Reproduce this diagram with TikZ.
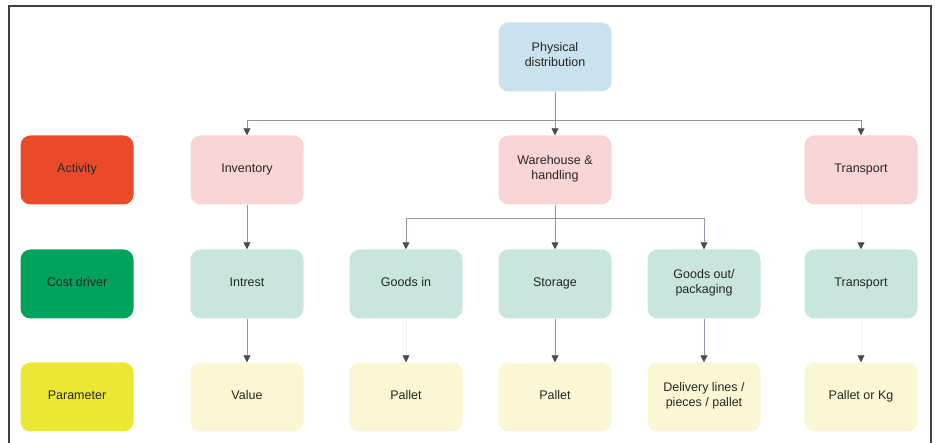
\documentclass[tikz,border=0pt]{standalone}
\usepackage{fontspec}
\setmainfont{Liberation Sans}
\usetikzlibrary{arrows.meta}

\definecolor{pdblue}{RGB}{202,226,238}
\definecolor{actred}{RGB}{234,74,42}
\definecolor{costgreen}{RGB}{0,162,92}
\definecolor{paryellow}{RGB}{234,232,50}
\definecolor{actpink}{RGB}{249,213,213}
\definecolor{costteal}{RGB}{200,229,222}
\definecolor{parcream}{RGB}{250,248,212}
\definecolor{linegray}{RGB}{140,152,168}

\begin{document}
\begin{tikzpicture}[x=1pt,y=-1pt,>={Triangle[width=7pt,length=7pt,color=black!70]},
    box/.style={rectangle,rounded corners=10pt,minimum width=113pt,minimum height=69pt,
        align=center,font=\fontsize{12.5}{15}\selectfont,text=black!85,
        execute at begin node=\strut,execute at end node=\strut},
    link/.style={->,draw=linegray,line width=0.8pt},
    faint/.style={->,draw=linegray!15,line width=0.8pt}]

            \useasboundingbox (0,0) rectangle (935,443);
            \draw[line width=1.2pt,black!75] (9,443) -- (9,6) -- (931,6) -- (931,443);

            % top
            \node[box,fill=pdblue] (pd) at (555,57) {Physical\\distribution};

            % row labels
            \node[box,fill=actred] (activity) at (77,170) {Activity};
            \node[box,fill=costgreen] (costdriver) at (77,284) {Cost driver};
            \node[box,fill=paryellow] (parameter) at (77,397) {Parameter};

            % activities
            \node[box,fill=actpink] (inv) at (247,170) {Inventory};
            \node[box,fill=actpink] (wh) at (555,170) {Warehouse \&\\handling};
            \node[box,fill=actpink] (tr) at (861,170) {Transport};

            % cost drivers
            \node[box,fill=costteal] (intrest) at (247,284) {Intrest};
            \node[box,fill=costteal] (gin) at (406,284) {Goods in};
            \node[box,fill=costteal] (st) at (555,284) {Storage};
            \node[box,fill=costteal] (gout) at (704,284) {Goods out/\\packaging};
            \node[box,fill=costteal] (trc) at (861,284) {Transport};

            % parameters
            \node[box,fill=parcream] (value) at (247,397) {Value};
            \node[box,fill=parcream] (pal1) at (406,397) {Pallet};
            \node[box,fill=parcream] (pal2) at (555,397) {Pallet};
            \node[box,fill=parcream] (lines) at (704,397) {Delivery lines /\\pieces / pallet};
            \node[box,fill=parcream] (palkg) at (861,397) {Pallet or Kg};

            \coordinate (j1) at (555,120);
            \coordinate (j2) at (555,218);

            \draw[link] (pd) to (wh);
            \draw[link] (j1) -| (inv);
            \draw[link] (j1) -| (tr);

            \draw[link] (wh) to (st);
            \draw[link] (j2) -| (gin);
            \draw[link] (j2) -| (gout);
            \draw[link] (inv) to (intrest);
            \draw[faint] (tr) to (trc);

            \draw[link] (intrest) to (value);
            \draw[faint] (gin) to (pal1);
            \draw[link] (st) to (pal2);
            \draw[link] (gout) to (lines);
            \draw[faint] (trc) to (palkg);

            ;
        \end{tikzpicture}
\end{document}
